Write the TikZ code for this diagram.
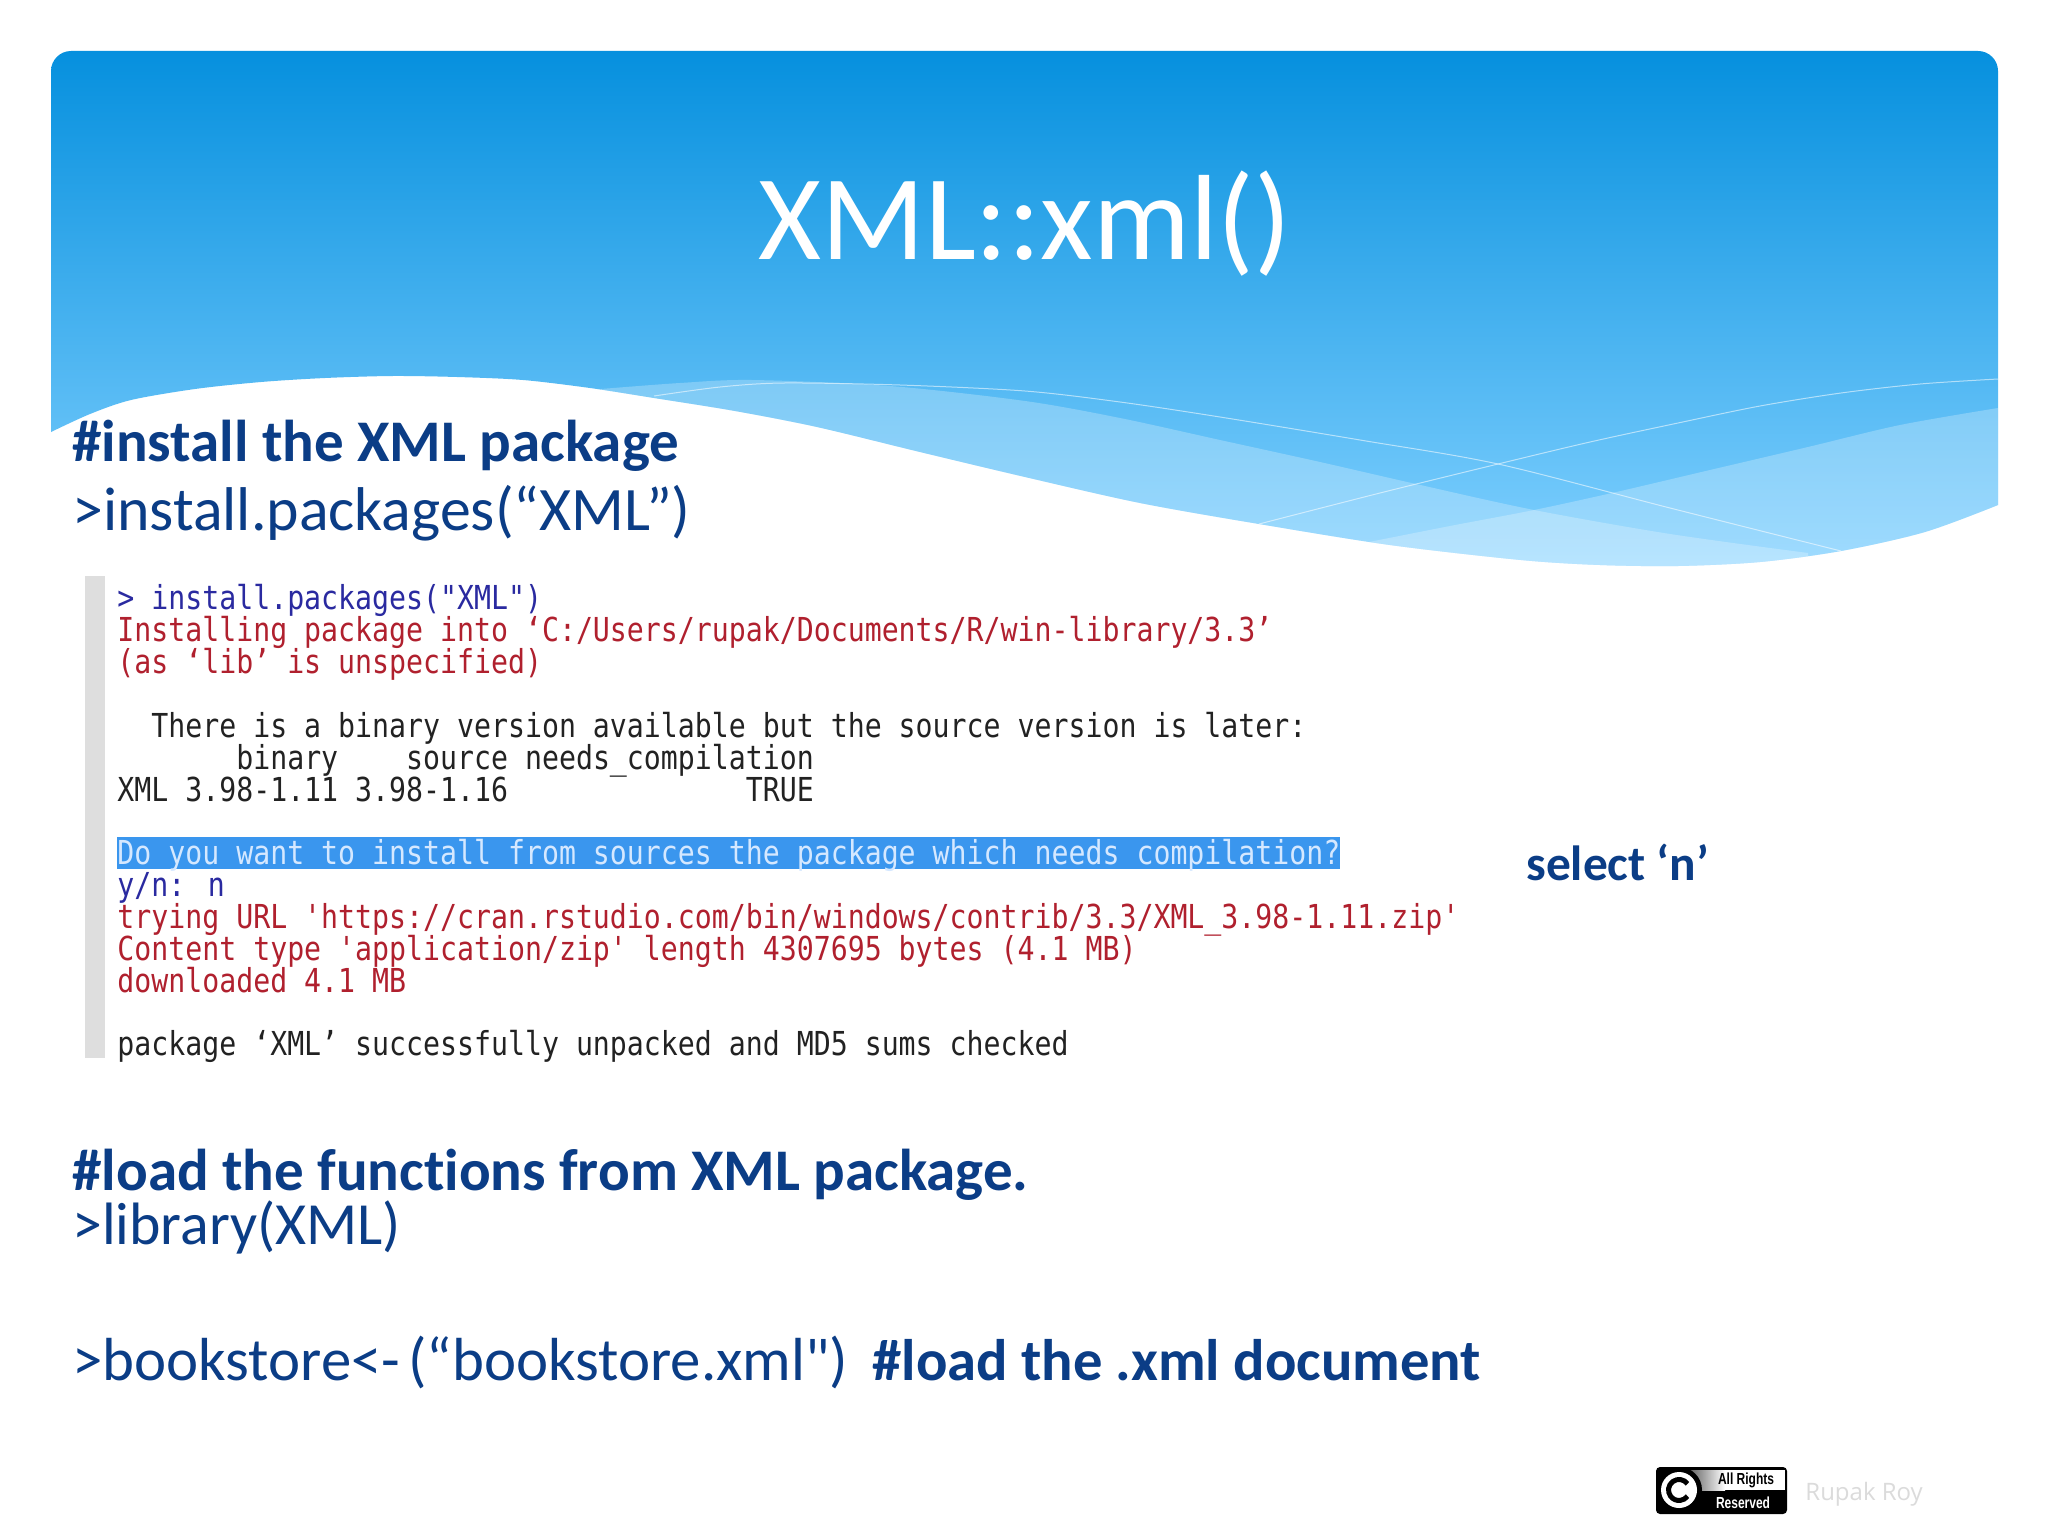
\documentclass[tikz,border=0pt]{standalone}
\usepackage{fontspec}
\setmainfont{Carlito}[Ligatures={TeXOff,NoCommon}]
\newfontfamily\termfont[FakeStretch=0.855]{DejaVu Sans Mono}
\newfontfamily\badgefont[FakeStretch=0.75]{Liberation Sans}
\newfontfamily\creditfont{Open Sans}
\definecolor{slidetext}{HTML}{0B3D86}
\definecolor{paneltop}{HTML}{0690DE}
\definecolor{panelbottom}{HTML}{80D0FF}
\definecolor{termblue}{HTML}{2A2AA0}
\definecolor{termred}{HTML}{B0202E}
\definecolor{termblack}{HTML}{222222}
\definecolor{termhigh}{HTML}{3A96EE}
\definecolor{termhightext}{HTML}{D5E8FF}
\tikzset{
  bigline/.style={anchor=base west, inner sep=0pt, text=slidetext, font=\fontsize{30.4}{32}\selectfont},
  bigbold/.style={bigline, font=\fontsize{29.5}{32}\selectfont\bfseries},
  termline/.style={anchor=base west, inner sep=0pt, font=\fontsize{16.5}{18}\termfont},
  wave/.style={fill=white, opacity=0.25},
  thinline/.style={draw=white, opacity=0.55, line width=0.5pt}
}
\newcommand{\panelpath}{(51,432) -- (51,71) .. controls (51,60) and (60,51) .. (71,51) -- (1978,51) .. controls (1989,51) and (1998,60) .. (1998,71) -- (1998,505)
  -- plot[smooth] coordinates {(1998,505) (1925,532) (1841,551) (1760,562) (1678,566) (1600,565) (1521,560) (1390,545) (1259,524) (1140,503) (1025,477) (920,452) (817,427) (735,411) (654,398) (590,388) (523,380) (457,377) (392,376) (325,378) (261,382) (195,389) (131,400) (90,414) (51,432)} -- cycle}
\begin{document}
\begin{tikzpicture}[x=0.5pt,y=-0.5pt]
\useasboundingbox (0,0) rectangle (2048,1536);
\fill[white] (0,0) rectangle (2048,1536);
% header panel
\shade[top color=paneltop, bottom color=panelbottom] \panelpath;
\begin{scope}
\clip \panelpath;
\fill[wave] plot[smooth] coordinates {(601,389) (680,383) (752,380) (890,386) (1025,401) (1120,418) (1220,440) (1320,462) (1416,484) (1534,510) (1670,534) (1808,553)} -- (1808,600) -- (601,600) -- cycle;
\fill[wave] plot[smooth] coordinates {(1998,408) (1900,425) (1808,447) (1710,470) (1612,493) (1534,510) (1450,526) (1364,543)} -- (1364,600) -- (1998,600) -- cycle;
\draw[thinline] plot[smooth] coordinates {(654,396) (720,387) (784,383) (900,385) (1025,391) (1120,402) (1220,417) (1360,440) (1498,464) (1670,508) (1841,551)};
\draw[thinline] plot[smooth] coordinates {(1259,524) (1380,493) (1498,464) (1590,442) (1678,423) (1760,406) (1841,393) (1920,384) (1998,379)};
\end{scope}
% title
\node (title) [anchor=base, inner sep=0pt, text=white, font=\fontsize{60.6}{64}\selectfont] at (1025,259) {XML::xml()};
% first block
\node (installnote) [bigbold] at (72,461) {\#install the XML package};
\node (installcmd) [bigline, font=\fontsize{30.9}{32}\selectfont] at (72,530) {>install.packages(“XML”)};
% console picture
\fill[black!13] (85,576) rectangle (105,1058);
\fill[termhigh] (117,837) rectangle (1340,869);
\node (term0) [termline, text=termblue] at (117,609) {> install.packages("XML")};
\node (term1) [termline, text=termred] at (117,641) {Installing package into ‘C:/Users/rupak/Documents/R/win-library/3.3’};
\node (term2) [termline, text=termred] at (117,673) {(as ‘lib’ is unspecified)};
\node (term4) [termline, text=termblack] at (117,737) {~~There is a binary version available but the source version is later:};
\node (term5) [termline, text=termblack] at (117,769) {~~~~~~~binary~~~~source needs\_compilation};
\node (term6) [termline, text=termblack] at (117,801) {XML 3.98-1.11 3.98-1.16~~~~~~~~~~~~~~TRUE};
\node (term8) [termline, text=termhightext] at (117,864) {Do you want to install from sources the package which needs compilation?};
\node (term9) [termline, text=termblue] at (117,896) {y/n: n};
\node (term10) [termline, text=termred] at (117,928) {trying URL 'https://cran.rstudio.com/bin/windows/contrib/3.3/XML\_3.98-1.11.zip'};
\node (term11) [termline, text=termred] at (117,960) {Content type 'application/zip' length 4307695 bytes (4.1 MB)};
\node (term12) [termline, text=termred] at (117,992) {downloaded 4.1 MB};
\node (term14) [termline, text=termblack] at (117,1055) {package ‘XML’ successfully unpacked and MD5 sums checked};
\node (selectn) [anchor=base west, inner sep=0pt, text=slidetext, font=\fontsize{24.7}{26}\selectfont\bfseries] at (1526,880) {select ‘n’};
% second block
\node (loadnote) [bigbold] at (72,1190) {\#load the functions from XML package.};
\node (loadcmd) [bigline, font=\fontsize{29.9}{32}\selectfont] at (72,1244) {>library(XML)};
\node (bookcmd) [bigline] at (72,1380) {>bookstore<- \hspace{-0.09em}(“bookstore.xml")};
\node (booknote) [bigbold, font=\fontsize{29.3}{32}\selectfont\bfseries] at (872,1380) {\#load the .xml document};
% rights badge
\fill[black, rounded corners=2pt] (1656,1467) rectangle (1787,1514);
\shade[left color=black!60, right color=white] (1690,1470) rectangle (1725,1490);
\fill[white] (1725,1470) rectangle (1785,1490);
\fill[black] (1679,1490) circle [radius=23];
\fill[white] (1679,1490) circle [radius=18];
\draw[black, line width=2.5pt] (1687.5,1483.8) arc [start angle=-36, end angle=-324, radius=10.5];
\node (rights) [anchor=center, inner sep=0pt, text=black, font=\fontsize{8}{9}\badgefont\bfseries] at (1746,1480) {All Rights};
\node (reserved) [anchor=center, inner sep=0pt, text=white, font=\fontsize{8}{9}\badgefont\bfseries] at (1743,1503) {Reserved};
\node (credit) [anchor=base west, inner sep=0pt, text=black!14, font=\fontsize{12}{14}\creditfont] at (1805,1500) {Rupak Roy};
\end{tikzpicture}
\end{document}
